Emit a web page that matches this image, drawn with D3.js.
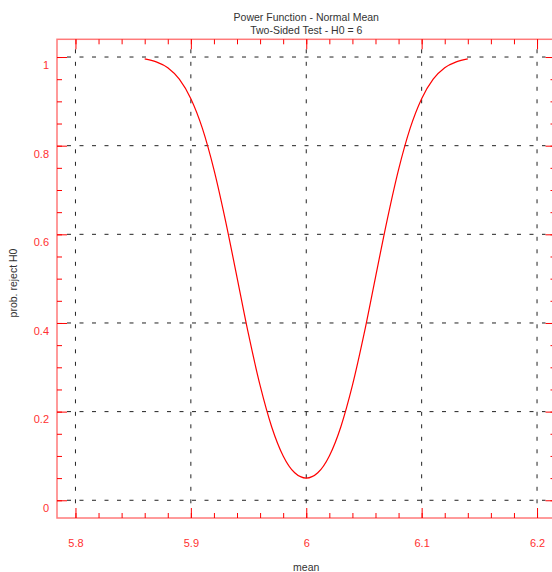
<!DOCTYPE html>
<html>
<head>
<meta charset="utf-8">
<script src="https://cdn.jsdelivr.net/npm/d3@7"></script>
<style>
  body { margin: 0; background: #fff; }
  svg { font-family: "Liberation Sans", Arial, sans-serif; }
</style>
</head>
<body>
<div id="chart"></div>
<script>
// power of the two-sided test
var means = [5.86, 5.87, 5.88, 5.89, 5.90, 5.91, 5.92, 5.93, 5.94, 5.95, 5.96, 5.97, 5.98, 5.99,
             6.00, 6.01, 6.02, 6.03, 6.04, 6.05, 6.06, 6.07, 6.08, 6.09, 6.10, 6.11, 6.12, 6.13, 6.14];
var power = [0.996, 0.989, 0.976, 0.950, 0.906, 0.839, 0.746, 0.631, 0.503, 0.374, 0.259, 0.166, 0.100, 0.062,
             0.050, 0.062, 0.100, 0.166, 0.259, 0.374, 0.503, 0.631, 0.746, 0.839, 0.906, 0.950, 0.976, 0.989, 0.996];
var xMajor = [5.8, 5.9, 6, 6.1, 6.2];
var xMinor = [5.8, 5.82, 5.84, 5.86, 5.88, 5.9, 5.92, 5.94, 5.96, 5.98, 6, 6.02, 6.04, 6.06, 6.08,
              6.1, 6.12, 6.14, 6.16, 6.18, 6.2];
var yMajor = [0, 0.2, 0.4, 0.6, 0.8, 1];
var yMinor = [0, 0.05, 0.1, 0.15, 0.2, 0.25, 0.3, 0.35, 0.4, 0.45, 0.5, 0.55, 0.6, 0.65, 0.7,
              0.75, 0.8, 0.85, 0.9, 0.95, 1];

var w = 552, h = 572;
var pL = 57, pR = 555.5, pT = 39.3, pB = 518;

var svg = d3.select("#chart").append("svg")
  .attr("width", w).attr("height", h);

var x = d3.scaleLinear().domain([5.784, 6.216]).range([pL, pR]);
var y = d3.scaleLinear().domain([-0.04, 1.04]).range([pB, pT]);

//grid
var grid = svg.append("g")
  .attr("stroke", "#222")
  .attr("stroke-width", 1)
  .attr("stroke-dasharray", "4,8.5");
grid.selectAll(".hg").data(yMajor).enter().append("line")
  .attr("x1", pL + 10).attr("x2", pR - 10)
  .attr("y1", function(d) { return y(d); })
  .attr("y2", function(d) { return y(d); });
grid.selectAll(".vg").data(xMajor).enter().append("line")
  .attr("y1", pT + 10).attr("y2", pB - 10)
  .attr("x1", function(d) { return x(d); })
  .attr("x2", function(d) { return x(d); });

// frame
svg.append("rect")
  .attr("x", pL).attr("y", pT)
  .attr("width", pR - pL).attr("height", pB - pT)
  .attr("fill", "none")
  .attr("stroke", "#ff7a7a")
  .attr("stroke-width", 1.5);

function styleAxis(g) {
  g.select(".domain").remove();
  g.selectAll(".tick line").attr("stroke", "#f00");
  g.selectAll("text").attr("fill", "#ff3030").attr("font-size", "11px")
    .attr("font-family", "Liberation Sans, Arial, sans-serif");
}

// minor ticks
svg.append("g").attr("transform", "translate(0," + pB + ")")
  .call(d3.axisBottom(x).tickValues(xMinor).tickSize(-5).tickFormat(""))
  .call(styleAxis);
svg.append("g").attr("transform", "translate(0," + pT + ")")
  .call(d3.axisTop(x).tickValues(xMinor).tickSize(-5).tickFormat(""))
  .call(styleAxis);
svg.append("g").attr("transform", "translate(" + pL + ",0)")
  .call(d3.axisLeft(y).tickValues(yMinor).tickSize(-5).tickFormat(""))
  .call(styleAxis);
svg.append("g").attr("transform", "translate(" + pR + ",0)")
  .call(d3.axisRight(y).tickValues(yMinor).tickSize(-5).tickFormat(""))
  .call(styleAxis);

// major ticks + labels
svg.append("g").attr("transform", "translate(0," + pB + ")")
  .call(d3.axisBottom(x).tickValues(xMajor).tickSize(-10).tickPadding(21).tickFormat(d3.format("")))
  .call(styleAxis);
svg.append("g").attr("transform", "translate(0," + pT + ")")
  .call(d3.axisTop(x).tickValues(xMajor).tickSize(-10).tickFormat(""))
  .call(styleAxis);
svg.append("g").attr("transform", "translate(" + pL + ",0)")
  .call(d3.axisLeft(y).tickValues(yMajor).tickSize(-10).tickPadding(8).tickFormat(d3.format("")))
  .call(styleAxis)
  .selectAll("text").attr("dy", "1.03em");
svg.append("g").attr("transform", "translate(" + pR + ",0)")
  .call(d3.axisRight(y).tickValues(yMajor).tickSize(-10).tickFormat(""))
  .call(styleAxis);

// curve
var line = d3.line()
  .x(function(d, i) { return x(means[i]); })
  .y(function(d) { return y(d); })
  .curve(d3.curveMonotoneX);
svg.append("path")
  .datum(power)
  .attr("d", line)
  .attr("fill", "none")
  .attr("stroke", "#f00")
  .attr("stroke-width", 1.2);

// titles
svg.append("text").attr("x", (pL + pR) / 2).attr("y", 20.5)
  .attr("text-anchor", "middle").attr("font-size", "10.5px").attr("fill", "#333")
  .text("Power Function - Normal Mean");
svg.append("text").attr("x", (pL + pR) / 2).attr("y", 34)
  .attr("text-anchor", "middle").attr("font-size", "10.5px").attr("fill", "#333")
  .text("Two-Sided Test - H0 = 6");
svg.append("text").attr("x", (pL + pR) / 2).attr("y", 571)
  .attr("text-anchor", "middle").attr("font-size", "10.5px").attr("fill", "#333")
  .text("mean");
svg.append("text")
  .attr("transform", "translate(17,283) rotate(-90)")
  .attr("text-anchor", "middle").attr("font-size", "10.5px").attr("fill", "#333")
  .text("prob. reject H0");
</script>
</body>
</html>
